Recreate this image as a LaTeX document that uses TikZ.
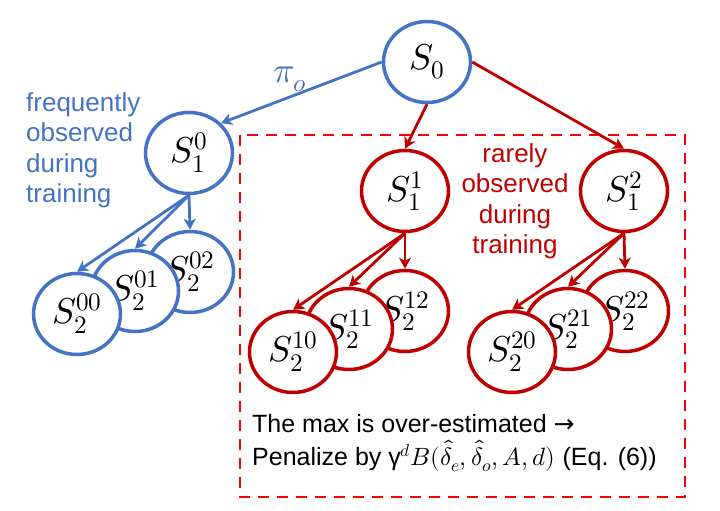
\documentclass[tikz,border=0pt]{standalone}
\usepackage{fontspec}
\usepackage{unicode-math}
\setmainfont{Liberation Sans}
\setmathfont{latinmodern-math.otf}
\newfontfamily\arrowfont{DejaVu Sans}
\usetikzlibrary{shapes.geometric,arrows.meta}
\definecolor{myblue}{RGB}{68,114,196}
\definecolor{myred}{RGB}{192,0,0}
\definecolor{boxred}{RGB}{255,0,0}
\begin{document}
\begin{tikzpicture}[x=1pt,y=-1pt,
  st/.style={ellipse, draw, line width=3.5pt, fill=white, minimum width=87pt, minimum height=81pt, inner sep=0pt, font=\fontsize{36}{42}\selectfont},
  bst/.style={st, draw=myblue},
  rst/.style={st, draw=myred},
  arr/.style={line width=2.8pt, -{Stealth[length=11pt,width=12pt,inset=3pt]}},
  barr/.style={arr, draw=myblue},
  rarr/.style={arr, draw=myred},
  lbl/.style={inner sep=0pt, font=\fontsize{26}{30.5}\selectfont}]
\useasboundingbox (0,0) rectangle (720,511);
% dashed box
\draw[boxred, line width=2.6pt, dash pattern=on 11pt off 8pt] (240,135) rectangle (685,497);
% texts
\node[lbl, text=myblue, anchor=north west, align=left] (tfreq) at (26,92) {frequently\\observed\\during\\training};
\node[lbl, text=myred, anchor=north, align=center] (trare) at (515,143) {rarely\\observed\\during\\training};
\node[inner sep=0pt, anchor=north west, align=left, font=\fontsize{25}{33}\selectfont] (tmax) at (252,414)
  {The max is over-estimated {\arrowfont →}\\Penalize by γ$^{d}B(\hat{\delta}_e,\hat{\delta}_o,A,d)$ (Eq. (6))};
% nodes
\node[bst] (s0) at (427,62) {$S_0$};
\node[bst] (s10) at (189,153) {$S_1^0$};
\node[rst] (s11) at (405,191) {$S_1^1$};
\node[rst] (s12) at (624,191) {$S_1^2$};
\node[bst] (s202) at (190,272) {$S_2^{02}$};
\node[bst] (s201) at (135,291) {$S_2^{01}$};
\node[bst] (s200) at (77,314) {$S_2^{00}$};
\node[rst] (s212) at (405,311) {$S_2^{12}$};
\node[rst] (s211) at (349,329) {$S_2^{11}$};
\node[rst] (s210) at (293,352) {$S_2^{10}$};
\node[rst] (s222) at (625,311) {$S_2^{22}$};
\node[rst] (s221) at (568,329) {$S_2^{21}$};
\node[rst] (s220) at (512,352) {$S_2^{20}$};
% arrows
\draw[barr] (s0.west) -- node[pos=0.57, above=4pt, text=myblue, inner sep=0pt, font=\fontsize{36}{42}\selectfont] (pio) {$\pi_o$} (s10.north east);
\draw[rarr] (s0.south) -- (s11.north);
\draw[rarr] (s0.east) -- (s12.north);
\draw[barr] (s10.south) -- (s200.north);
\draw[barr] (s10.south) -- (s201.north);
\draw[barr] (s10.south) -- (s202.north);
\draw[rarr] (s11.south) -- (s210.north);
\draw[rarr] (s11.south) -- (s211.north);
\draw[rarr] (s11.south) -- (s212.north);
\draw[rarr] (s12.south) -- (s220.north);
\draw[rarr] (s12.south) -- (s221.north);
\draw[rarr] (s12.south) -- (s222.north);
\end{tikzpicture}
\end{document}
